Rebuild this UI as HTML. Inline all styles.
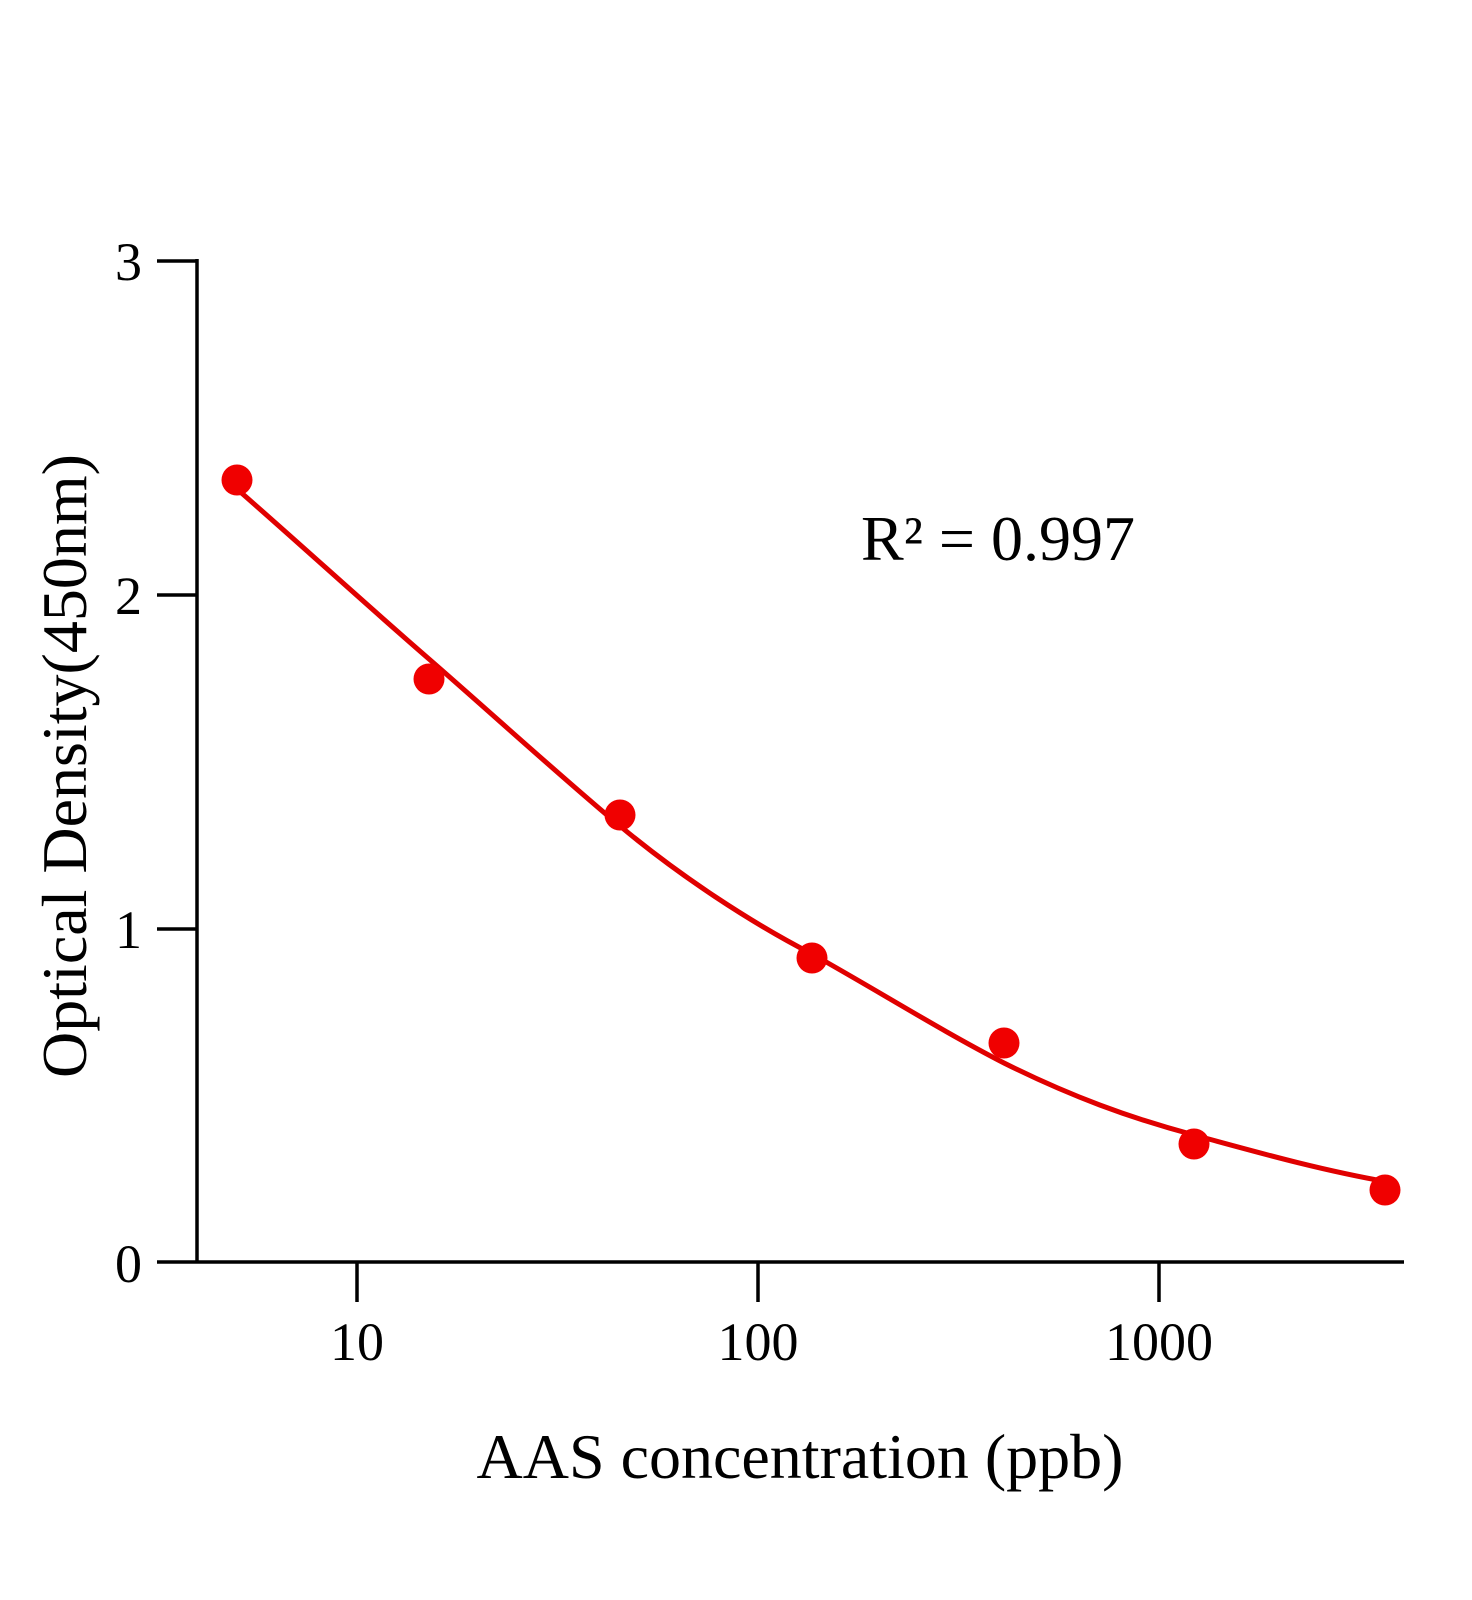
<!DOCTYPE html>
<html><head><meta charset="utf-8"><style>
html,body{margin:0;padding:0;background:#fff;}
svg{display:block;font-family:"Liberation Serif",serif;}
</style></head><body>
<svg width="1472" height="1600" viewBox="0 0 1472 1600" xmlns="http://www.w3.org/2000/svg">
<g stroke="#000" stroke-width="3.5" fill="none">
<line x1="197" y1="259" x2="197" y2="1263"/>
<line x1="157" y1="1262" x2="1404" y2="1262"/>
<line x1="157" y1="261" x2="197" y2="261"/>
<line x1="157" y1="595" x2="197" y2="595"/>
<line x1="157" y1="929" x2="197" y2="929"/>
<line x1="357" y1="1262" x2="357" y2="1302"/>
<line x1="758" y1="1262" x2="758" y2="1302"/>
<line x1="1159" y1="1262" x2="1159" y2="1302"/>
</g>
<g font-size="54" fill="#000" text-anchor="end">
<text x="142" y="280">3</text>
<text x="142" y="614">2</text>
<text x="142" y="948">1</text>
<text x="142" y="1282">0</text>
</g>
<g font-size="54" fill="#000" text-anchor="middle">
<text x="357" y="1360">10</text>
<text x="758" y="1360">100</text>
<text x="1159" y="1360">1000</text>
</g>
<text x="800" y="1478" font-size="64" text-anchor="middle">AAS concentration (ppb)</text>
<text transform="translate(86,766) rotate(-90)" font-size="64" text-anchor="middle">Optical Density(450nm)</text>
<text x="861" y="560" font-size="64">R² = 0.997</text>
<path d="M237,489 C300,544 370,608 429,659 C490,712 560,776 620,826 C680,876 750,922 812,954 C880,992 940,1030 1004,1063 C1070,1096 1130,1118 1194,1135 C1260,1153 1320,1170 1388,1182" stroke="#e00000" stroke-width="5" fill="none"/>
<g fill="#f00000">
<circle cx="237" cy="480" r="15.5"/>
<circle cx="429" cy="679" r="15.5"/>
<circle cx="620" cy="815" r="15.5"/>
<circle cx="812" cy="958" r="15.5"/>
<circle cx="1004" cy="1043" r="15.5"/>
<circle cx="1194" cy="1144" r="15.5"/>
<circle cx="1385" cy="1190" r="15.5"/>
</g>
</svg>
</body></html>
